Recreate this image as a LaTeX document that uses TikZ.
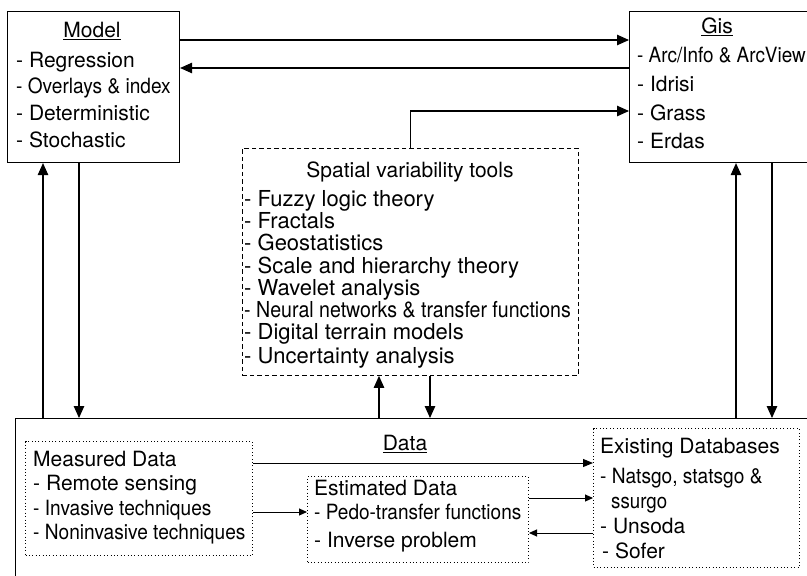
\documentclass[tikz,border=0pt]{standalone}
\usepackage{fontspec}
\setmainfont{TeX Gyre Heros}
\usepackage{graphicx}
\usetikzlibrary{arrows.meta}
\begin{document}
\begin{tikzpicture}[x=1pt,y=-1pt,
  box/.style={draw,line width=1.1pt,rectangle,inner sep=0pt,anchor=north west},
  dbox/.style={draw,line width=0.9pt,rectangle,inner sep=0pt,anchor=north west,dash pattern=on 4.5pt off 3pt},
  pbox/.style={draw,line width=1pt,rectangle,inner sep=0pt,anchor=north west,dash pattern=on 1pt off 2.4pt},
  txt/.style={inner sep=0pt,anchor=base west,font=\fontsize{21}{25}\selectfont},
  ttl/.style={inner sep=0pt,anchor=base,font=\fontsize{21}{25}\selectfont},
  stxt/.style={inner sep=0pt,anchor=base west,font=\fontsize{22}{25}\selectfont},
  arr/.style={line width=1.1pt,-{Triangle[length=12pt,width=10.5pt]}},
  sarr/.style={line width=1pt,-{Triangle[length=8pt,width=7pt]}}]
\clip (0,0) rectangle (807,576);
\fill[white] (0,0) rectangle (807,576);
% boxes
\node[box,minimum width=172pt,minimum height=151pt] (model) at (7,11) {};
\node[box,minimum width=200pt,minimum height=151pt] (gis) at (629,11) {};
\node[dbox,minimum width=336pt,minimum height=227pt] (spatial) at (242,148) {};
\node[box,minimum width=820pt,minimum height=180pt] (data) at (15,418) {};
\node[pbox,minimum width=227pt,minimum height=114pt] (measured) at (25,441) {};
\node[pbox,minimum width=221pt,minimum height=86pt] (estimated) at (307,476) {};
\node[pbox,minimum width=206pt,minimum height=139pt] (existing) at (593,428) {};
% Model text
\node[ttl] (mt) at (92,37) {\underline{Model}};
\node[txt] (m1) at (16,67) {- Regression};
\node[txt] (m2) at (16,93.5) {\scalebox{0.91}[1]{- Overlays \& index}};
\node[txt] (m3) at (16,120) {- Deterministic};
\node[txt] (m4) at (16,147) {- Stochastic};
% Gis text
\node[ttl] (gt) at (717,33) {\underline{Gis}};
\node[txt] (g1) at (637,62) {\scalebox{0.9}[1]{- Arc/Info \& ArcView}};
\node[txt] (g2) at (637,91) {- Idrisi};
\node[txt] (g3) at (637,120) {- Grass};
\node[txt] (g4) at (637,148) {- Erdas};
% Spatial text
\node[ttl] (st) at (410,177) {Spatial variability tools};
\node[stxt] (s1) at (244,206) {- Fuzzy logic theory};
\node[stxt] (s2) at (244,228) {- Fractals};
\node[stxt] (s3) at (244,250) {- Geostatistics};
\node[stxt] (s4) at (244,273) {- Scale and hierarchy theory};
\node[stxt] (s5) at (244,295) {- Wavelet analysis};
\node[stxt] (s6) at (244,317) {\scalebox{0.89}[1]{- Neural networks \& transfer functions}};
\node[stxt] (s7) at (244,339) {- Digital terrain models};
\node[stxt] (s8) at (244,363) {- Uncertainty analysis};
% Data text
\node[ttl] (dt) at (405,450) {\underline{Data}};
\node[txt] (d1) at (33,466) {Measured Data};
\node[txt] (d2) at (33,490) {- Remote sensing};
\node[txt] (d3) at (33,515) {\scalebox{0.91}[1]{- Invasive techniques}};
\node[txt] (d4) at (33,539) {\scalebox{0.91}[1]{- Noninvasive techniques}};
\node[txt] (e1) at (314,495) {Estimated Data};
\node[txt] (e2) at (314,519) {\scalebox{0.905}[1]{- Pedo-transfer functions}};
\node[txt] (e3) at (314,547) {- Inverse problem};
\node[txt] (x1) at (600,453) {Existing Databases};
\node[txt] (x2) at (600,483) {\scalebox{0.91}[1]{- Natsgo, statsgo \&}};
\node[txt] (x3) at (611,508) {\scalebox{0.89}[1]{ssurgo}};
\node[txt] (x4) at (600,533) {- Unsoda};
\node[txt] (x5) at (602,558) {- Sofer};
% connectors
\draw[arr] (model.east |- 0,40) -- (gis.west |- 0,40);
\draw[arr] (gis.west |- 0,68) -- (model.east |- 0,68);
\draw[arr] (spatial.north) |- (gis.west |- 0,111);
\draw[arr] (data.north -| 43,0) -- (model.south -| 43,0);
\draw[arr] (model.south -| 79,0) -- (data.north -| 79,0);
\draw[arr] (data.north -| 379,0) -- (spatial.south -| 379,0);
\draw[arr] (spatial.south -| 430,0) -- (data.north -| 430,0);
\draw[arr] (data.north -| 736,0) -- (gis.south -| 736,0);
\draw[arr] (gis.south -| 772,0) -- (data.north -| 772,0);
\draw[sarr,-{Triangle[length=10pt,width=8pt]}] (measured.east |- 0,463) -- (existing.west |- 0,463);
\draw[sarr] (measured.east |- 0,512) -- (estimated.west |- 0,512);
\draw[sarr] (estimated.east |- 0,498) -- (existing.west |- 0,498);
\draw[sarr] (existing.west |- 0,533) -- (estimated.east |- 0,533);
\end{tikzpicture}
\end{document}
